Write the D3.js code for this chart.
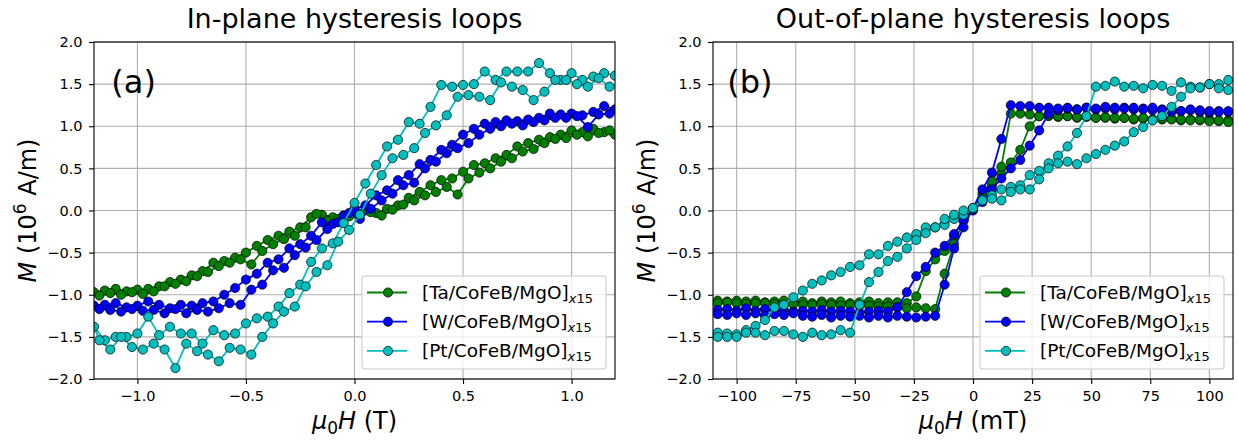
<!DOCTYPE html>
<html>
<head>
<meta charset="utf-8">
<script src="https://cdn.jsdelivr.net/npm/d3@7"></script>
<style>
  body { margin: 0; background: #fff; }
  text { font-family: "DejaVu Sans", sans-serif; fill: #000; }
</style>
</head>
<body>
<svg id="chart" width="1238" height="441"></svg>
<script>
(function(){
"use strict";

/* ---- data: in-plane loops (field in T, M in 1e6 A/m) ---- */
var fieldDownIP = [1.2, 1.15, 1.1, 1.05, 1.0, 0.95, 0.9, 0.85, 0.8, 0.75, 0.7, 0.65, 0.6, 0.55, 0.5, 0.45, 0.4, 0.35, 0.3, 0.25, 0.2, 0.15, 0.1, 0.05, 0,
    -0.05, -0.1, -0.15, -0.2, -0.25, -0.3, -0.35, -0.4, -0.45, -0.5, -0.55, -0.6, -0.65, -0.7, -0.75, -0.8, -0.85, -0.9, -0.95, -1.0, -1.05, -1.1, -1.15, -1.2];
var fieldUpIP = [-1.175, -1.125, -1.075, -1.025, -0.975, -0.925, -0.875, -0.825, -0.775, -0.725, -0.675, -0.625, -0.575, -0.525, -0.475, -0.425,
    -0.375, -0.325, -0.275, -0.225, -0.175, -0.125, -0.075, -0.025, 0.025, 0.075, 0.125, 0.175, 0.225, 0.275, 0.325, 0.375, 0.425, 0.475,
    0.525, 0.575, 0.625, 0.675, 0.725, 0.775, 0.825, 0.875, 0.925, 0.975, 1.025, 1.075, 1.125, 1.175];

var taDownIP = [0.90, 0.93, 0.97, 0.93, 0.95, 0.90, 0.87, 0.84, 0.80, 0.76, 0.66, 0.62, 0.56, 0.54, 0.46, 0.38, 0.36, 0.30, 0.22, 0.15, 0.06, 0.02, -0.03, 0.00, -0.03,
    -0.06, -0.08, -0.05, -0.08, -0.20, -0.25, -0.30, -0.35, -0.42, -0.50, -0.56, -0.60, -0.62, -0.72, -0.77, -0.82, -0.85, -0.90, -0.93, -0.94, -0.96, -0.93, -0.95, -0.97];
var taUpIP = [-1.01, -0.98, -1.00, -0.97, -0.99, -0.96, -0.90, -0.87, -0.84, -0.78, -0.73, -0.66, -0.62, -0.58, -0.64, -0.48, -0.40, -0.34, -0.30, -0.20, -0.04, -0.12,
    -0.10, -0.07, -0.04, -0.02, -0.06, 0.01, 0.07, 0.12, 0.18, 0.22, 0.28, 0.19, 0.38, 0.45, 0.50, 0.58, 0.62, 0.70, 0.73, 0.80, 0.85, 0.86, 0.90, 0.88, 0.92, 0.95];
var wDownIP = [1.20, 1.24, 1.17, 1.13, 1.15, 1.14, 1.15, 1.10, 1.08, 1.06, 1.07, 1.05, 1.03, 0.97, 0.90, 0.78, 0.72, 0.60, 0.55, 0.42, 0.36, 0.24, 0.18, 0.06, 0.02,
    -0.06, -0.16, -0.14, -0.30, -0.40, -0.45, -0.58, -0.62, -0.75, -0.82, -0.92, -1.00, -1.08, -1.10, -1.13, -1.12, -1.16, -1.12, -1.08, -1.13, -1.15, -1.10, -1.12, -1.13];
var wUpIP = [-1.17, -1.18, -1.20, -1.17, -1.19, -1.18, -1.22, -1.17, -1.22, -1.18, -1.20, -1.16, -1.10, -1.12, -0.94, -0.88, -0.71, -0.68, -0.53, -0.44, -0.35, -0.22,
    -0.14, -0.03, -0.10, 0.02, 0.12, 0.20, 0.30, 0.33, 0.50, 0.58, 0.68, 0.74, 0.80, 0.90, 0.97, 1.00, 1.03, 1.01, 1.05, 1.07, 1.10, 1.10, 1.12, 0.99, 1.14, 1.15];
var ptDownIP = [1.60, 1.63, 1.59, 1.55, 1.63, 1.55, 1.63, 1.75, 1.65, 1.65, 1.65, 1.55, 1.65, 1.50, 1.49, 1.47, 1.49, 1.23, 1.03, 1.05, 0.84, 0.76, 0.54, 0.32, 0.09,
    -0.15, -0.39, -0.45, -0.61, -0.88, -0.98, -1.14, -1.26, -1.28, -1.34, -1.46, -1.48, -1.42, -1.58, -1.46, -1.46, -1.38, -1.48, -1.26, -1.46, -1.50, -1.50, -1.54, -1.38];
var ptUpIP = [-1.54, -1.65, -1.50, -1.62, -1.65, -1.58, -1.65, -1.87, -1.58, -1.67, -1.71, -1.79, -1.63, -1.65, -1.71, -1.50, -1.34, -1.20, -1.14, -0.90, -0.73, -0.65,
    -0.37, -0.23, -0.05, 0.20, 0.42, 0.62, 0.66, 0.74, 0.92, 1.01, 1.13, 1.35, 1.37, 1.35, 1.31, 1.52, 1.47, 1.43, 1.31, 1.41, 1.55, 1.55, 1.50, 1.47, 1.57, 1.47];

/* ---- data: out-of-plane loops (field in mT) ---- */
var fieldDownOP = [108, 104, 100, 96, 92, 88, 84, 80, 76, 72, 68, 64, 60, 56, 52, 48, 44, 40, 36, 32, 28, 24, 20, 16, 12, 8, 4, 0,
    -4, -8, -12, -16, -20, -24, -28, -32, -36, -40, -44, -48, -52, -56, -60, -64, -68, -72, -76, -80, -84, -88, -92, -96, -100, -104, -108];
var fieldUpOP = [-108, -104, -100, -96, -92, -88, -84, -80, -76, -72, -68, -64, -60, -56, -52, -48, -44, -40, -36, -32, -28, -24, -20, -16, -12, -8, -4, 0,
    4, 8, 12, 16, 20, 24, 28, 32, 36, 40, 44, 48, 52, 56, 60, 64, 68, 72, 76, 80, 84, 88, 92, 96, 100, 104, 108];

var taDownOP = [1.07, 1.06, 1.08, 1.07, 1.08, 1.07, 1.09, 1.08, 1.08, 1.09, 1.08, 1.10, 1.09, 1.10, 1.10, 1.11, 1.10, 1.12, 1.11, 1.12, 1.12,
    1.00, 0.72, 0.57, 0.44, 0.30, 0.15, 0.02, -0.10, -0.30, -0.48, -0.58, -0.72, -1.02, -1.10,
    -1.09, -1.09, -1.10, -1.08, -1.09, -1.10, -1.08, -1.09, -1.08, -1.10, -1.08, -1.09, -1.07, -1.08, -1.09, -1.07, -1.08, -1.07, -1.08, -1.07];
var taUpOP = [-1.10, -1.09, -1.10, -1.11, -1.10, -1.10, -1.11, -1.12, -1.11, -1.12, -1.12, -1.11, -1.12, -1.13, -1.12, -1.13, -1.13, -1.14, -1.14, -1.15, -1.16, -1.15, -1.16, -1.17,
    -0.75, -0.40, -0.12, 0.02, 0.20, 0.35, 0.52, 1.15,
    1.15, 1.14, 1.12, 1.13, 1.12, 1.12, 1.11, 1.12, 1.10, 1.11, 1.10, 1.10, 1.09, 1.10, 1.08, 1.09, 1.08, 1.08, 1.07, 1.08, 1.06, 1.07, 1.05];
var wDownOP = [1.17, 1.18, 1.16, 1.17, 1.19, 1.18, 1.17, 1.20, 1.19, 1.21, 1.20, 1.22, 1.20, 1.21, 1.20, 1.22, 1.20, 1.21, 1.19, 1.15,
    0.95, 0.77, 0.60, 0.50, 0.38, 0.25, 0.10, 0.00, -0.12, -0.28, -0.42, -0.50, -0.67, -0.78, -0.97, -1.15,
    -1.20, -1.19, -1.20, -1.21, -1.20, -1.19, -1.20, -1.18, -1.20, -1.19, -1.20, -1.18, -1.20, -1.17, -1.19, -1.16, -1.19, -1.17, -1.18];
var wUpOP = [-1.23, -1.24, -1.22, -1.24, -1.22, -1.25, -1.23, -1.24, -1.22, -1.25, -1.26, -1.24, -1.27, -1.25, -1.26, -1.25, -1.27, -1.25, -1.27, -1.25, -1.26, -1.27, -1.26, -1.25,
    -0.88, -0.45, -0.20, 0.03, 0.25, 0.45, 0.85, 1.25,
    1.24, 1.24, 1.22, 1.22, 1.21, 1.22, 1.20, 1.22, 1.21, 1.23, 1.22, 1.21, 1.22, 1.20, 1.22, 1.19, 1.20, 1.18, 1.20, 1.19, 1.18, 1.17, 1.18];
var ptDownOP = [1.43, 1.50, 1.50, 1.46, 1.47, 1.52, 1.42, 1.48, 1.49, 1.45, 1.48, 1.47, 1.53, 1.48, 1.47,
    1.12, 0.92, 0.76, 0.65, 0.56, 0.47, 0.42, 0.30, 0.28, 0.25, 0.18, 0.13, 0.02, -0.05, -0.10, -0.17, -0.20, -0.20, -0.28, -0.32,
    -0.37, -0.42, -0.52, -0.52, -0.65, -0.67, -0.73, -0.77, -0.83, -0.87, -0.95, -1.03, -1.12, -1.15, -1.30, -1.37, -1.42, -1.47, -1.46, -1.45];
var ptUpOP = [-1.50, -1.50, -1.50, -1.45, -1.45, -1.48, -1.43, -1.43, -1.47, -1.50, -1.45, -1.48, -1.47, -1.42, -1.45,
    -1.12, -0.85, -0.73, -0.60, -0.55, -0.45, -0.35, -0.27, -0.20, -0.10, -0.05, 0.00, 0.03, 0.12, 0.14, 0.12, 0.22, 0.25, 0.25, 0.37,
    0.50, 0.56, 0.58, 0.55, 0.62, 0.67, 0.72, 0.77, 0.82, 0.93, 0.99, 1.07, 1.12, 1.23, 1.35, 1.45, 1.46, 1.50, 1.45, 1.55];

var seriesLabels = ["[Ta/CoFeB/MgO]", "[W/CoFeB/MgO]", "[Pt/CoFeB/MgO]"];
var seriesColors = ["#008000", "#0000ff", "#00bfbf"];
var yTicks = [-2.0, -1.5, -1.0, -0.5, 0.0, 0.5, 1.0, 1.5, 2.0];
var inPlaneTicks = [-1.0, -0.5, 0.0, 0.5, 1.0];
var outOfPlaneTicks = [-100, -75, -50, -25, 0, 25, 50, 75, 100];

var svg = d3.select("#chart");
var top = 42, bottom = 379;
var markerR = 4.6;

var panels = [
    { id: "ip", title: "In-plane hysteresis loops", tag: "(a)", unit: "T", left: 94, right: 615,
      domain: [-1.2, 1.2], ticks: inPlaneTicks, fmt: d3.format(".1f"), tagAt: [-1.12, 1.4],
      fieldDown: fieldDownIP, fieldUp: fieldUpIP,
      down: [taDownIP, wDownIP, ptDownIP], up: [taUpIP, wUpIP, ptUpIP] },
    { id: "op", title: "Out-of-plane hysteresis loops", tag: "(b)", unit: "mT", left: 713, right: 1233,
      domain: [-110, 110], ticks: outOfPlaneTicks, fmt: d3.format("d"), tagAt: [-104, 1.4],
      fieldDown: fieldDownOP, fieldUp: fieldUpOP,
      down: [taDownOP, wDownOP, ptDownOP], up: [taUpOP, wUpOP, ptUpOP] }
];

/* join the two sweeps of one sample into a single run of points */
function loopPoints(p, i){
    var pts = p.fieldDown.map(function(f, j){ return [f, p.down[i][j]]; });
    return pts.concat(p.fieldUp.map(function(f, j){ return [f, p.up[i][j]]; }));
}

function drawPanel(p){
    var x = d3.scaleLinear().domain(p.domain).range([p.left, p.right]);
    var y = d3.scaleLinear().domain([-2, 2]).range([bottom, top]);
    var g = svg.append("g");

    // grid
    g.append("g").selectAll("line").data(p.ticks).enter().append("line")
        .attr("x1", function(d){ return x(d); }).attr("x2", function(d){ return x(d); })
        .attr("y1", top).attr("y2", bottom)
        .attr("stroke", "#b0b0b0").attr("stroke-width", 1.1);
    g.append("g").selectAll("line").data(yTicks).enter().append("line")
        .attr("y1", function(d){ return y(d); }).attr("y2", function(d){ return y(d); })
        .attr("x1", p.left).attr("x2", p.right)
        .attr("stroke", "#b0b0b0").attr("stroke-width", 1.1);

    // data, clipped to the axes box
    g.append("clipPath").attr("id", "clip-" + p.id).append("rect")
        .attr("x", p.left).attr("y", top).attr("width", p.right - p.left).attr("height", bottom - top);
    var plot = g.append("g").attr("clip-path", "url(#clip-" + p.id + ")");
    var line = d3.line().x(function(d){ return x(d[0]); }).y(function(d){ return y(d[1]); });

    seriesColors.forEach(function(color, i){
        var pts = loopPoints(p, i);
        plot.append("path").attr("d", line(pts))
            .attr("fill", "none").attr("stroke", color).attr("stroke-width", 1.8);
        plot.append("g").selectAll("circle").data(pts).enter().append("circle")
            .attr("cx", function(d){ return x(d[0]); })
            .attr("cy", function(d){ return y(d[1]); })
            .attr("r", markerR)
            .attr("fill", color).attr("stroke", "#000").attr("stroke-width", 0.7);
    });

    // axes
    var xAxis = g.append("g").attr("transform", "translate(0," + bottom + ")")
        .call(d3.axisBottom(x).tickValues(p.ticks).tickFormat(p.fmt).tickSize(5).tickPadding(6.5));
    var yAxis = g.append("g").attr("transform", "translate(" + p.left + ",0)")
        .call(d3.axisLeft(y).tickValues(yTicks).tickFormat(d3.format(".1f")).tickSize(5).tickPadding(6.5));
    [xAxis, yAxis].forEach(function(a){
        a.select(".domain").remove();
        a.selectAll("line").attr("stroke", "#000").attr("stroke-width", 1.1);
        a.selectAll("text").attr("font-size", "14.5px").attr("font-family", "DejaVu Sans").attr("fill", "#000");
    });

    // spines
    g.append("rect").attr("x", p.left).attr("y", top)
        .attr("width", p.right - p.left).attr("height", bottom - top)
        .attr("fill", "none").attr("stroke", "#000").attr("stroke-width", 1.1);

    var cx = (p.left + p.right) / 2;

    // title
    g.append("text").attr("x", cx).attr("y", 28).attr("text-anchor", "middle")
        .attr("font-size", "27px").text(p.title);

    // panel tag
    g.append("text").attr("x", x(p.tagAt[0])).attr("y", y(p.tagAt[1]))
        .attr("font-size", "32px").text(p.tag);

    // x label
    var xl = g.append("text").attr("x", cx).attr("y", 429).attr("text-anchor", "middle").attr("font-size", "24px");
    xl.append("tspan").attr("font-style", "italic").text("\u03bc");
    xl.append("tspan").attr("font-size", "17px").attr("dy", 5).text("0");
    xl.append("tspan").attr("font-style", "italic").attr("dy", -5).text("H");
    xl.append("tspan").text(" (" + p.unit + ")");

    // y label
    var yl = g.append("text").attr("transform", "translate(" + (p.left - 58) + "," + ((top + bottom) / 2) + ") rotate(-90)")
        .attr("text-anchor", "middle").attr("font-size", "24px");
    yl.append("tspan").attr("font-style", "italic").text("M");
    yl.append("tspan").text(" (10");
    yl.append("tspan").attr("font-size", "17px").attr("dy", -10).text("6");
    yl.append("tspan").attr("dy", 10).text(" A/m)");

    // legend
    var lg = g.append("g").attr("transform", "translate(" + (p.right - 253) + ",276)");
    lg.append("rect").attr("width", 244).attr("height", 93).attr("rx", 3)
        .attr("fill", "#fff").attr("fill-opacity", 0.8).attr("stroke", "#cccccc").attr("stroke-width", 1.1);
    seriesLabels.forEach(function(label, i){
        var ry = 16.5 + i * 29.2;
        lg.append("line").attr("x1", 5).attr("x2", 45).attr("y1", ry).attr("y2", ry)
            .attr("stroke", seriesColors[i]).attr("stroke-width", 1.8);
        lg.append("circle").attr("cx", 26).attr("cy", ry).attr("r", markerR)
            .attr("fill", seriesColors[i]).attr("stroke", "#000").attr("stroke-width", 0.7);
        var t = lg.append("text").attr("x", 60).attr("y", ry + 6.5).attr("font-size", "18.5px");
        t.append("tspan").text(label);
        t.append("tspan").attr("font-size", "13px").attr("font-style", "italic").attr("dy", 4).text("x");
        t.append("tspan").attr("font-size", "13px").text("15");
    });
}

panels.forEach(drawPanel);

})();
</script>
</body>
</html>
